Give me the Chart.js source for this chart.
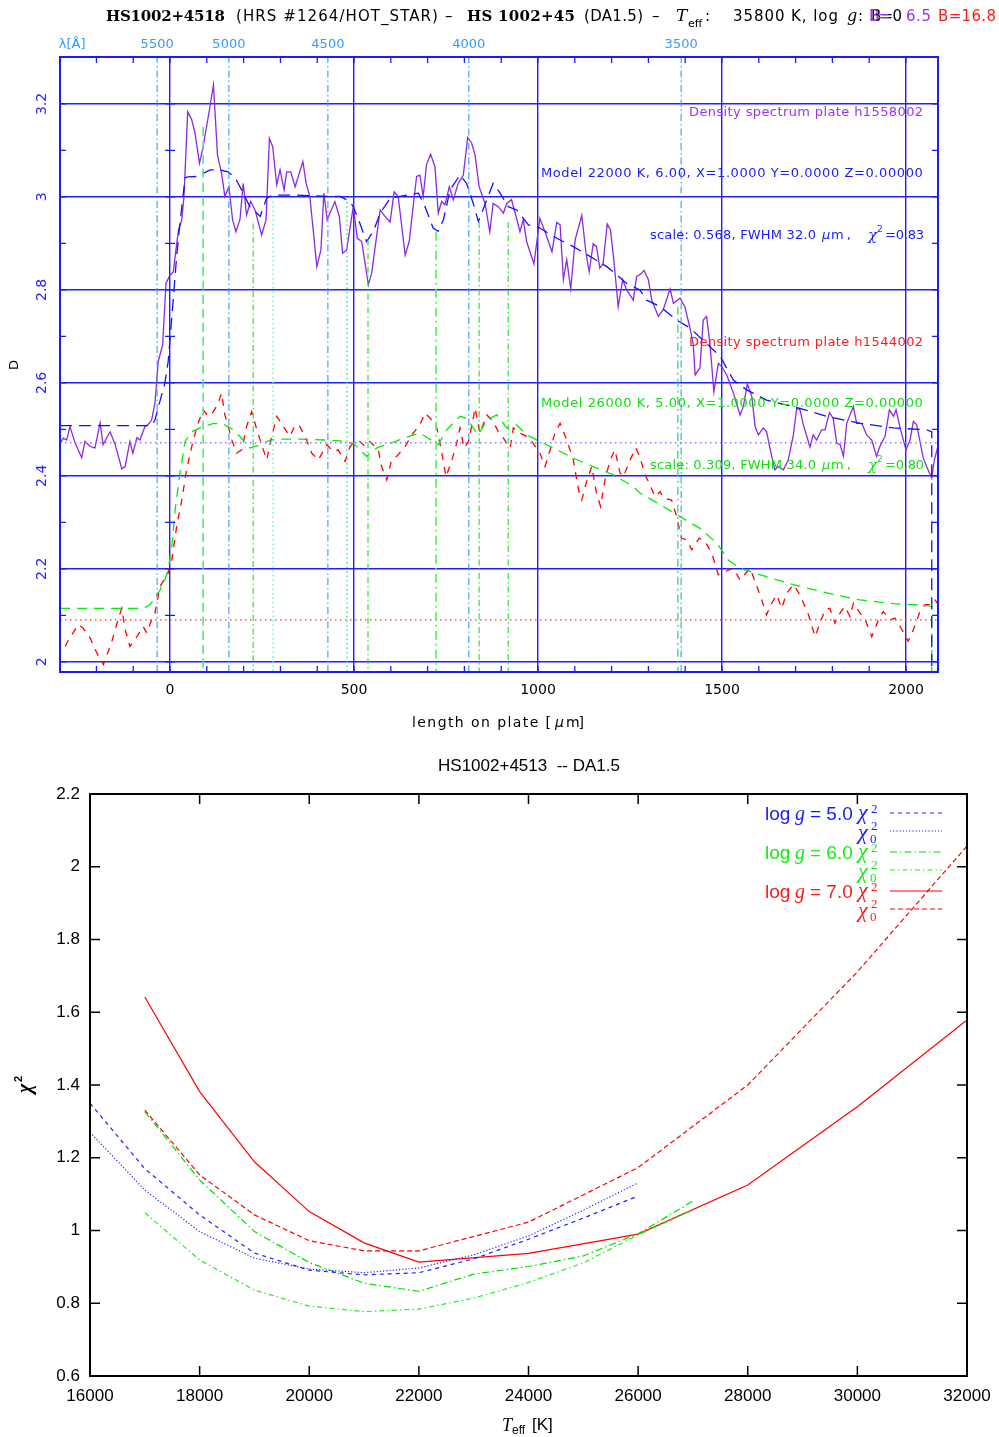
<!DOCTYPE html>
<html>
<head>
<meta charset="utf-8">
<script src="https://cdn.jsdelivr.net/npm/chart.js@4.4.1/dist/chart.umd.min.js"></script>
<style>
html, body { margin: 0; padding: 0; background: #fff; }
canvas { display: block; }
</style>
</head>
<body>
<canvas id="spec" width="999" height="745"></canvas>
<canvas id="chi" width="999" height="692"></canvas>
<script>
// ---------- top panel: density spectra ----------
const X_MIN = -299, X_MAX = 2087, D_MIN = 1.978, D_MAX = 3.301;
const xTicks = [0, 500, 1000, 1500, 2000];
const dTicks = [2.0, 2.2, 2.4, 2.6, 2.8, 3.0, 3.2];
const dTickLabels = ['2', '2.2', '2.4', '2.6', '2.8', '3', '3.2'];
const lambdaTickX = [-266, -35, 160, 429, 812, 1389];
const lambdaLabels = ['λ[Å]', '5500', '5000', '4500', '4000', '3500'];
const lambdaLineX = [-35, 160, 429, 812, 1389];
const markX = [90, 226, 280, 481, 538, 723, 840, 919, 1380];
const markTop = [3.151, 2.943, 3.000, 2.989, 2.908, 2.925, 2.946, 2.946, 2.764];
const purpleLevel = 2.471;
const redLevel = 2.090;

const purpleX = [-299,-290,-281,-272,-258,-240,-231,-217,-204,-190,-182,-163,-149,-131,-122,-109,-101,-90,-82,-68,
  -60,-50,-41,-36,-32,-20,-11,-2,9,16,23,32,38,48,59,68,80,90,107,118,129,140,149,160,170,179,190,199,208,219,
  231,249,261,270,279,290,299,310,317,328,340,361,370,380,399,410,418,427,448,460,469,480,498,509,521,539,548,571,584,598,
  609,620,639,650,670,679,688,697,708,720,729,738,747,759,770,783,797,809,820,829,840,856,869,878,892,906,915,928,937,951,
  960,969,989,1005,1019,1038,1051,1060,1069,1078,1089,1101,1119,1130,1139,1150,1159,1168,1177,1188,1197,1205,1218,1230,1241,1259,1268,1279,1288,1300,
  1309,1327,1340,1359,1368,1386,1399,1413,1422,1427,1440,1449,1458,1467,1478,1490,1499,1513,1531,1549,
  1558,1569,1581,1590,1599,1612,1621,1635,1644,1653,1667,1680,1694,1703,1712,1721,1739,1748,1757,1771,
  1780,1792,1802,1812,1821,1830,1839,1857,1866,1880,1893,1907,1920,1929,1943,1955,1966,1973,1984,2000,
  2011,2020,2029,2047,2056,2070,2077,2088];
const purpleD = [2.470,2.481,2.477,2.506,2.471,2.439,2.474,2.463,2.460,2.514,2.467,2.495,2.467,2.415,2.420,2.474,2.449,2.482,2.477,2.506,
  2.510,2.520,2.557,2.606,2.646,2.682,2.814,2.829,2.839,2.886,2.929,2.951,3.001,3.183,3.166,3.137,3.072,3.108,3.187,3.241,
  3.090,3.051,3.001,3.022,2.951,2.925,2.951,3.029,2.961,2.990,2.972,2.918,2.951,3.126,3.108,3.026,3.058,3.015,3.054,3.054,
  3.022,3.076,3.029,3.001,2.850,2.886,3.008,2.951,2.990,2.958,2.879,2.886,2.979,2.911,2.904,2.811,2.836,2.972,2.958,2.946,
  3.011,3.001,2.875,2.904,3.044,3.047,3.001,3.069,3.092,3.065,2.965,2.990,2.983,3.022,2.994,3.029,3.047,3.128,3.115,3.090,
  3.022,2.986,2.925,2.986,2.979,2.965,2.986,2.994,2.968,2.925,2.951,2.904,2.856,2.954,2.925,2.882,2.945,2.940,2.822,2.865,
  2.802,2.908,2.960,2.882,2.839,2.899,2.893,2.847,2.857,2.942,2.929,2.872,2.764,2.822,2.800,2.778,2.829,2.834,2.842,2.822,
  2.778,2.743,2.757,2.802,2.771,2.782,2.764,2.718,2.682,2.617,2.632,2.735,2.743,2.686,2.581,2.642,2.635,2.617,2.578,2.531,
  2.549,2.598,2.571,2.506,2.488,2.503,2.495,2.442,2.413,2.420,2.413,2.434,2.488,2.546,2.542,2.510,2.462,2.488,2.477,2.499,
  2.499,2.536,2.524,2.470,2.467,2.442,2.513,2.549,2.513,2.513,2.488,2.477,2.442,2.463,2.485,2.542,2.528,2.542,2.503,2.456,
  2.477,2.517,2.510,2.438,2.420,2.395,2.434,2.467];

const redX = [-285,-276,-249,-236,-217,-199,-181,-158,-140,-131,-122,-109,-90,-73,-63,-50,-41,-27,-5,5,
  18,32,45,59,73,90,104,118,131,140,149,158,168,181,195,208,222,236,249,263,
  272,290,308,326,340,353,371,385,403,426,444,457,476,489,498,516,530,543,566,575,
  589,602,616,639,657,679,693,707,725,738,750,766,779,788,799,811,824,829,842,861,
  878,892,906,924,933,951,969,987,1005,1019,1033,1046,1060,1078,1096,1110,1119,1132,1146,1159,
  1170,1182,1196,1209,1223,1232,1250,1266,1277,1291,1304,1318,1332,1341,1363,1377,1390,1404,1418,1438,
  1454,1472,1490,1508,1531,1549,1576,1590,1608,1621,1635,1649,1662,1676,1694,1712,1735,1753,1766,1780,
  1793,1807,1821,1834,1848,1857,1875,1889,1907,1925,1938,1957,1970,1979,1997,2006,2020,2038,2052,2065,
  2079,2088];
const redD = [2.033,2.047,2.080,2.072,2.051,2.019,1.994,2.044,2.094,2.115,2.069,2.033,2.054,2.076,2.062,2.090,2.105,2.162,2.191,2.219,
  2.291,2.348,2.413,2.463,2.506,2.542,2.528,2.538,2.556,2.578,2.531,2.506,2.477,2.449,2.456,2.506,2.538,2.499,2.467,2.434,
  2.470,2.528,2.506,2.485,2.510,2.506,2.477,2.449,2.434,2.467,2.452,2.456,2.431,2.463,2.470,2.474,2.463,2.474,2.456,2.420,
  2.391,2.434,2.442,2.463,2.488,2.510,2.535,2.524,2.503,2.452,2.398,2.434,2.470,2.503,2.460,2.474,2.524,2.546,2.492,2.531,
  2.517,2.495,2.481,2.460,2.503,2.492,2.485,2.470,2.449,2.420,2.456,2.492,2.513,2.477,2.434,2.370,2.348,2.388,2.420,2.363,
  2.334,2.391,2.434,2.456,2.406,2.398,2.434,2.460,2.440,2.402,2.381,2.355,2.366,2.352,2.348,2.312,2.266,2.262,2.241,2.266,
  2.259,2.234,2.187,2.194,2.201,2.176,2.201,2.173,2.133,2.101,2.126,2.144,2.115,2.148,2.166,2.144,2.101,2.054,2.083,2.112,
  2.115,2.083,2.105,2.119,2.097,2.126,2.105,2.090,2.054,2.090,2.108,2.090,2.094,2.083,2.058,2.044,2.069,2.108,2.123,2.123,
  2.133,2.123];

const blueModelX = [-299,-50,-41,-14,-5,8,18,27,41,49,73,109,136,158,177,190,217,245,263,281,335,426,462,489,498,
  516,534,552,571,598,643,675,693,715,729,743,761,788,806,824,838,861,878,897,919,942,974,1005,1051,1096,
  1150,1187,1241,1277,1295,1332,1377,1413,1495,1531,1567,1621,1694,1785,1875,1966,2056,2070,2070];
const blueModelD = [2.508,2.508,2.520,2.600,2.646,2.772,2.872,2.944,3.041,3.043,3.044,3.058,3.058,3.054,3.041,3.022,2.979,2.958,2.998,3.004,
  3.004,3.001,3.001,2.990,2.979,2.943,2.904,2.925,2.965,2.997,3.004,3.008,2.979,2.933,2.926,2.951,3.015,3.047,3.029,2.986,
  2.947,2.994,3.029,3.008,2.979,2.972,2.940,2.933,2.911,2.893,2.868,2.850,2.814,2.800,2.778,2.764,2.735,2.718,2.657,2.606,
  2.585,2.563,2.549,2.528,2.513,2.503,2.499,2.495,1.95];

const greenModelX = [-299,-73,-54,-41,-27,-14,-5,5,14,27,41,59,82,118,145,172,199,217,245,272,299,353,426,462,498,
  534,562,598,643,679,715,729,752,788,806,824,838,861,888,915,942,969,1005,1051,1096,1150,1205,1259,1277,1332,
  1386,1440,1486,1517,1549,1621,1694,1785,1875,1966,2056,2070,2070];
const greenModelD = [2.115,2.115,2.123,2.137,2.155,2.176,2.198,2.248,2.327,2.406,2.474,2.495,2.503,2.513,2.511,2.499,2.477,2.460,2.467,2.477,
  2.479,2.479,2.477,2.475,2.470,2.442,2.460,2.470,2.483,2.492,2.474,2.467,2.499,2.528,2.524,2.503,2.488,2.520,2.531,2.503,
  2.510,2.488,2.474,2.456,2.438,2.420,2.402,2.377,2.363,2.338,2.312,2.287,2.255,2.219,2.201,2.183,2.166,2.148,2.133,2.125,
  2.121,2.119,1.95];

// ---------- bottom panel: chi^2 vs Teff ----------
const teffTicks = [16000, 18000, 20000, 22000, 24000, 26000, 28000, 30000, 32000];
const chiTicks = [0.6, 0.8, 1.0, 1.2, 1.4, 1.6, 1.8, 2.0, 2.2];
const chiTickLabels = ['0.6', '0.8', '1', '1.2', '1.4', '1.6', '1.8', '2', '2.2'];
const temps5 = [16000,17000,18000,19000,20000,21000,22000,23000,24000,25000,26000];
const chi2G5 = [1.350,1.170,1.043,0.938,0.891,0.878,0.884,0.922,0.976,1.034,1.095];
const chi02G5 = [1.270,1.111,0.997,0.924,0.894,0.884,0.897,0.933,0.985,1.056,1.131];
const temps6 = [17000,18000,19000,20000,21000,22000,23000,24000,25000,26000,27000];
const chi2G6 = [1.327,1.139,0.997,0.912,0.855,0.833,0.880,0.901,0.930,0.991,1.081];
const chi02G6 = [1.049,0.919,0.836,0.792,0.777,0.784,0.814,0.857,0.911,0.988,1.056];
const temps7 = [17000,18000,19000,20000,21000,22000,24000,26000,28000,30000,32000];
const chi2G7 = [1.642,1.382,1.189,1.052,0.966,0.913,0.937,0.990,1.125,1.340,1.579];
const chi02G7 = [1.331,1.153,1.043,0.972,0.944,0.944,1.023,1.173,1.400,1.711,2.057];

function pts(xs, ys) { return xs.map((x, i) => ({ x: x, y: ys[i] })); }

function lineSet(data, color, width, dash) {
  return { data: data, borderColor: color, borderWidth: width, borderDash: dash || [],
           pointRadius: 0, fill: false, tension: 0 };
}

function fitText(ctx, text, x0, x1, y, font, color) {
  ctx.font = font;
  ctx.fillStyle = color;
  ctx.textAlign = 'left';
  ctx.letterSpacing = '0px';
  const w = ctx.measureText(text).width;
  const s = (x1 - x0 - w) / Math.max(text.length - 1, 1);
  ctx.letterSpacing = s.toFixed(2) + 'px';
  ctx.fillText(text, x0, y);
  ctx.letterSpacing = '0px';
}

// marker line styles
const markStyles = [
  ['#44ee77', 1.6, [9, 5]],
  ['#22dd22', 1.1, [6, 3, 1.5, 3]],
  ['#44ffaa', 1.3, [1.5, 3]],
  ['#22ee66', 1.3, [1.5, 3]],
  ['#22dd22', 1.1, [6, 3, 1.5, 3]],
  ['#55ee55', 1.6, [9, 4, 2, 4]],
  ['#22dd22', 1.1, [6, 3, 1.5, 3]],
  ['#22dd22', 1.1, [6, 3, 1.5, 3]],
  ['#33dd55', 1.3, [8, 4, 2, 4]]
];

const specSets = [];
lambdaLineX.forEach(x => specSets.push(lineSet([{x: x, y: D_MIN}, {x: x, y: D_MAX}], '#3399ff', 1.1, [7, 3, 1.5, 3])));
markX.forEach((x, i) => specSets.push(lineSet([{x: x, y: markTop[i]}, {x: x, y: D_MIN}], markStyles[i][0], markStyles[i][1], markStyles[i][2])));
specSets.push(lineSet([{x: X_MIN, y: purpleLevel}, {x: X_MAX, y: purpleLevel}], '#a070ff', 1.5, [1.5, 3.5]));
specSets.push(lineSet([{x: X_MIN, y: redLevel}, {x: X_MAX, y: redLevel}], '#ff3030', 1.3, [1.5, 3.5]));
specSets.push(lineSet(pts(blueModelX, blueModelD), '#1010ff', 1.3, [12, 7]));
specSets.push(lineSet(pts(greenModelX, greenModelD), '#00ee00', 1.3, [10, 7]));
specSets.push(lineSet(pts(purpleX, purpleD), '#8a2be2', 1.3));
specSets.push(lineSet(pts(redX, redD), '#ff0000', 1.3, [7, 7]));

function drawScaleLine(ctx, head, tail, yy, color) {
  fitText(ctx, head, 650, 816, yy, '13px "DejaVu Sans"', color);
  ctx.font = 'italic 13px "DejaVu Sans"';
  ctx.fillText('μ', 822, yy);
  fitText(ctx, 'm,', 831, 851, yy, '13px "DejaVu Sans"', color);
  ctx.font = 'italic 15px "DejaVu Serif"';
  ctx.fillText('χ', 868, yy);
  ctx.font = '9px "DejaVu Sans"';
  ctx.fillText('2', 877, yy - 6);
  fitText(ctx, tail, 885, 924, yy, '13px "DejaVu Sans"', color);
}

const specDecor = {
  id: 'specDecor',
  afterDraw(chart) {
    const ctx = chart.ctx, a = chart.chartArea, x = chart.scales.x, y = chart.scales.y;
    ctx.save();
    ctx.strokeStyle = '#1a1aff';
    ctx.lineWidth = 2;
    ctx.strokeRect(a.left, a.top, a.right - a.left, a.bottom - a.top);
    ctx.lineWidth = 1.3;
    ctx.beginPath();
    for (let v = -200; v <= 2000; v += 100) {
      const px = x.getPixelForValue(v);
      ctx.moveTo(px, a.top); ctx.lineTo(px, a.top + 6);
      ctx.moveTo(px, a.bottom); ctx.lineTo(px, a.bottom - 6);
    }
    const x0 = x.getPixelForValue(0);
    for (let k = 0; k < 13; k++) {
      const py = y.getPixelForValue(2.0 + k * 0.1);
      ctx.moveTo(a.left, py); ctx.lineTo(a.left + 6, py);
      ctx.moveTo(a.right, py); ctx.lineTo(a.right - 6, py);
      ctx.moveTo(x0 - 5, py); ctx.lineTo(x0 + 5, py);
    }
    ctx.stroke();

    // rotated D tick labels
    ctx.fillStyle = '#2222ff';
    ctx.font = '14px "DejaVu Sans"';
    ctx.textAlign = 'center';
    ctx.textBaseline = 'middle';
    dTicks.forEach((v, i) => {
      ctx.save();
      ctx.translate(42, y.getPixelForValue(v));
      ctx.rotate(-Math.PI / 2);
      ctx.fillText(dTickLabels[i], 0, 0);
      ctx.restore();
    });
    ctx.save();
    ctx.fillStyle = '#000';
    ctx.font = '13px "DejaVu Sans"';
    ctx.translate(15, 365);
    ctx.rotate(-Math.PI / 2);
    ctx.fillText('D', 0, 0);
    ctx.restore();

    // x title
    ctx.textBaseline = 'middle';
    fitText(ctx, 'length on plate [', 412, 551, 723, '14px "DejaVu Sans"', '#000');
    ctx.font = 'italic 14px "DejaVu Sans"';
    ctx.fillText('μ', 555, 723);
    fitText(ctx, 'm]', 566, 584, 723, '14px "DejaVu Sans"', '#000');

    // annotations
    const af = '13px "DejaVu Sans"';
    fitText(ctx, 'Density spectrum plate h1558002', 689, 923, 113, af, '#9933ee');
    fitText(ctx, 'Model 22000 K, 6.00, X=1.0000 Y=0.0000 Z=0.00000', 541, 923, 174, af, '#1a1aff');
    drawScaleLine(ctx, 'scale: 0.568, FWHM 32.0', '=0.83', 236, '#1a1aff');
    fitText(ctx, 'Density spectrum plate h1544002', 689, 923, 343, af, '#ff1a1a');
    fitText(ctx, 'Model 26000 K, 5.00, X=1.0000 Y=0.0000 Z=0.00000', 541, 923, 404, af, '#11dd11');
    drawScaleLine(ctx, 'scale: 0.309, FWHM 34.0', '=0.80', 466, '#11dd11');

    // title
    const ty = 17;
    fitText(ctx, 'HS1002+4518', 106, 225, ty, 'bold 15px "DejaVu Serif"', '#000');
    fitText(ctx, '(HRS #1264/HOT_STAR)', 236, 438, ty, '15px "DejaVu Sans"', '#000');
    fitText(ctx, '–', 445, 460, ty, '15px "DejaVu Sans"', '#000');
    fitText(ctx, 'HS 1002+45', 467, 575, ty, 'bold 15px "DejaVu Serif"', '#000');
    fitText(ctx, '(DA1.5)', 584, 643, ty, '15px "DejaVu Sans"', '#000');
    fitText(ctx, '–', 652, 666, ty, '15px "DejaVu Sans"', '#000');
    ctx.font = 'italic 17px "DejaVu Serif"';
    ctx.fillText('T', 676, ty);
    ctx.font = '11px "DejaVu Sans"';
    ctx.fillText('eff', 688, ty + 7);
    ctx.font = '15px "DejaVu Sans"';
    ctx.fillText(':', 705, ty);
    fitText(ctx, '35800 K, log', 733, 838, ty, '15px "DejaVu Sans"', '#000');
    ctx.font = 'italic 16px "DejaVu Serif"';
    ctx.fillText('g', 847, ty);
    ctx.font = '15px "DejaVu Sans"';
    ctx.fillText(':', 858, ty);
    fitText(ctx, 'B=0', 871, 902, ty, '15px "DejaVu Sans"', '#000');
    fitText(ctx, 'B=', 869, 890, ty, '15px "DejaVu Sans"', '#9933ee');
    fitText(ctx, '6.5', 906, 931, ty, '15px "DejaVu Sans"', '#9933ee');
    fitText(ctx, 'B=16.8', 938, 996, ty, '15px "DejaVu Sans"', '#ff1a1a');
    ctx.restore();
  }
};

new Chart(document.getElementById('spec'), {
  type: 'line',
  data: { datasets: specSets },
  options: {
    responsive: false,
    animation: false,
    layout: { padding: { top: 30, right: 61, bottom: 0, left: 0 } },
    plugins: { legend: { display: false }, tooltip: { enabled: false }, title: { display: false } },
    scales: {
      x: {
        type: 'linear', position: 'bottom', min: X_MIN, max: X_MAX,
        afterBuildTicks: s => { s.ticks = xTicks.map(v => ({ value: v })); },
        afterFit: s => { s.height = 73; },
        grid: { color: '#2020ff', lineWidth: 1.4, drawTicks: false },
        border: { display: false },
        ticks: { color: '#000', font: { family: 'DejaVu Sans', size: 14 }, padding: 10, maxRotation: 0, autoSkip: false,
                 callback: v => String(v) }
      },
      xTop: {
        type: 'linear', position: 'top', min: X_MIN, max: X_MAX,
        afterBuildTicks: s => { s.ticks = lambdaTickX.map(v => ({ value: v })); },
        afterFit: s => { s.height = 27; },
        grid: { display: false, drawTicks: false },
        border: { display: false },
        ticks: { color: '#3399ff', font: { family: 'DejaVu Sans', size: 13 }, padding: 5, maxRotation: 0, autoSkip: false,
                 callback: (v, i) => lambdaLabels[i] }
      },
      y: {
        type: 'linear', min: D_MIN, max: D_MAX,
        afterBuildTicks: s => { s.ticks = dTicks.map(v => ({ value: v })); },
        afterFit: s => { s.width = 60; },
        grid: { color: '#2020ff', lineWidth: 1.4, drawTicks: false },
        border: { display: false },
        ticks: { display: false }
      }
    }
  },
  plugins: [specDecor]
});

// ---------- bottom chart ----------
const chiStyles = {
  g5a: ['#2020ff', [4, 4]],
  g5b: ['#2020ff', [1.2, 2]],
  g6a: ['#00dd00', [7, 3, 1.5, 3]],
  g6b: ['#22ee22', [5, 3, 1.5, 3]],
  g7a: ['#ff0000', []],
  g7b: ['#ff0000', [5, 3]]
};

const chiDecor = {
  id: 'chiDecor',
  afterDraw(chart) {
    const ctx = chart.ctx, a = chart.chartArea, x = chart.scales.x, y = chart.scales.y;
    ctx.save();
    ctx.strokeStyle = '#000';
    ctx.lineWidth = 2;
    ctx.strokeRect(a.left, a.top, a.right - a.left, a.bottom - a.top);
    ctx.lineWidth = 1.5;
    ctx.beginPath();
    teffTicks.forEach(v => {
      const px = x.getPixelForValue(v);
      ctx.moveTo(px, a.top); ctx.lineTo(px, a.top + 10);
      ctx.moveTo(px, a.bottom); ctx.lineTo(px, a.bottom - 10);
    });
    chiTicks.forEach(v => {
      const py = y.getPixelForValue(v);
      ctx.moveTo(a.left, py); ctx.lineTo(a.left + 10, py);
      ctx.moveTo(a.right, py); ctx.lineTo(a.right - 10, py);
    });
    ctx.stroke();

    ctx.textBaseline = 'middle';
    ctx.fillStyle = '#000';
    ctx.textAlign = 'center';
    ctx.font = '17px "Liberation Sans"';
    ctx.fillText('HS1002+4513  -- DA1.5', 529, 21);

    ctx.textAlign = 'left';
    ctx.font = 'italic 18px "Liberation Serif"';
    ctx.fillText('T', 502, 681);
    ctx.font = '12px "Liberation Sans"';
    ctx.fillText('eff', 512, 686);
    ctx.font = '17px "Liberation Sans"';
    ctx.fillText('[K]', 532, 680);

    ctx.save();
    ctx.translate(26, 340);
    ctx.rotate(-Math.PI / 2);
    ctx.font = 'bold italic 20px "Liberation Serif"';
    ctx.fillText('χ', -8, 0);
    ctx.font = 'bold 11px "Liberation Sans"';
    ctx.fillText('2', 3, -7);
    ctx.restore();

    // legend
    const rows = [
      ['= 5.0', '#1a1aff', 68, 'g5a', 'g5b'],
      ['= 6.0', '#11ee11', 107, 'g6a', 'g6b'],
      ['= 7.0', '#ff1a1a', 146, 'g7a', 'g7b']
    ];
    ctx.textBaseline = 'alphabetic';
    rows.forEach(r => {
      const yy = r[2];
      ctx.fillStyle = r[1];
      ctx.font = '19px "Liberation Sans"';
      ctx.fillText('log', 765, yy + 7);
      ctx.font = 'italic 20px "Liberation Serif"';
      ctx.fillText('g', 795, yy + 7);
      ctx.font = '19px "Liberation Sans"';
      ctx.fillText(r[0], 810, yy + 7);
      ctx.font = 'italic 22px "Liberation Serif"';
      ctx.fillText('χ', 858, yy + 6);
      ctx.font = '13px "Liberation Serif"';
      ctx.fillText('2', 871, yy);
      ctx.font = 'italic 22px "Liberation Serif"';
      ctx.fillText('χ', 858, yy + 26);
      ctx.font = '13px "Liberation Serif"';
      ctx.fillText('2', 871, yy + 17);
      ctx.fillText('0', 870, yy + 30);
      [0, 1].forEach(k => {
        const st = chiStyles[r[3 + k]];
        const ly = yy + k * 18;
        ctx.strokeStyle = st[0];
        ctx.lineWidth = 1.2;
        ctx.setLineDash(st[1]);
        ctx.beginPath();
        ctx.moveTo(890, ly);
        ctx.lineTo(942, ly);
        ctx.stroke();
        ctx.setLineDash([]);
      });
    });
    ctx.restore();
  }
};

new Chart(document.getElementById('chi'), {
  type: 'line',
  data: {
    datasets: [
      lineSet(pts(temps5, chi2G5), chiStyles.g5a[0], 1.2, chiStyles.g5a[1]),
      lineSet(pts(temps5, chi02G5), chiStyles.g5b[0], 1.2, chiStyles.g5b[1]),
      lineSet(pts(temps6, chi2G6), chiStyles.g6a[0], 1.2, chiStyles.g6a[1]),
      lineSet(pts(temps6, chi02G6), chiStyles.g6b[0], 1.2, chiStyles.g6b[1]),
      lineSet(pts(temps7, chi2G7), chiStyles.g7a[0], 1.2, chiStyles.g7a[1]),
      lineSet(pts(temps7, chi02G7), chiStyles.g7b[0], 1.2, chiStyles.g7b[1])
    ]
  },
  options: {
    responsive: false,
    animation: false,
    layout: { padding: { top: 49, right: 32, bottom: 0, left: 0 } },
    plugins: { legend: { display: false }, tooltip: { enabled: false } },
    scales: {
      x: {
        type: 'linear', min: 16000, max: 32000,
        afterBuildTicks: s => { s.ticks = teffTicks.map(v => ({ value: v })); },
        afterFit: s => { s.height = 61; s.paddingLeft = 0; s.paddingRight = 0; },
        grid: { display: false, drawTicks: false },
        border: { display: false },
        ticks: { color: '#000', font: { family: 'Liberation Sans', size: 17 }, padding: 10, maxRotation: 0, autoSkip: false,
                 callback: v => String(v) }
      },
      y: {
        type: 'linear', min: 0.6, max: 2.2,
        afterBuildTicks: s => { s.ticks = chiTicks.map(v => ({ value: v })); },
        afterFit: s => { s.width = 90; s.paddingTop = 0; s.paddingBottom = 0; },
        grid: { display: false, drawTicks: false },
        border: { display: false },
        ticks: { color: '#000', font: { family: 'Liberation Sans', size: 17 }, padding: 10, autoSkip: false,
                 callback: (v, i) => chiTickLabels[i] }
      }
    }
  },
  plugins: [chiDecor]
});
</script>
</body>
</html>
